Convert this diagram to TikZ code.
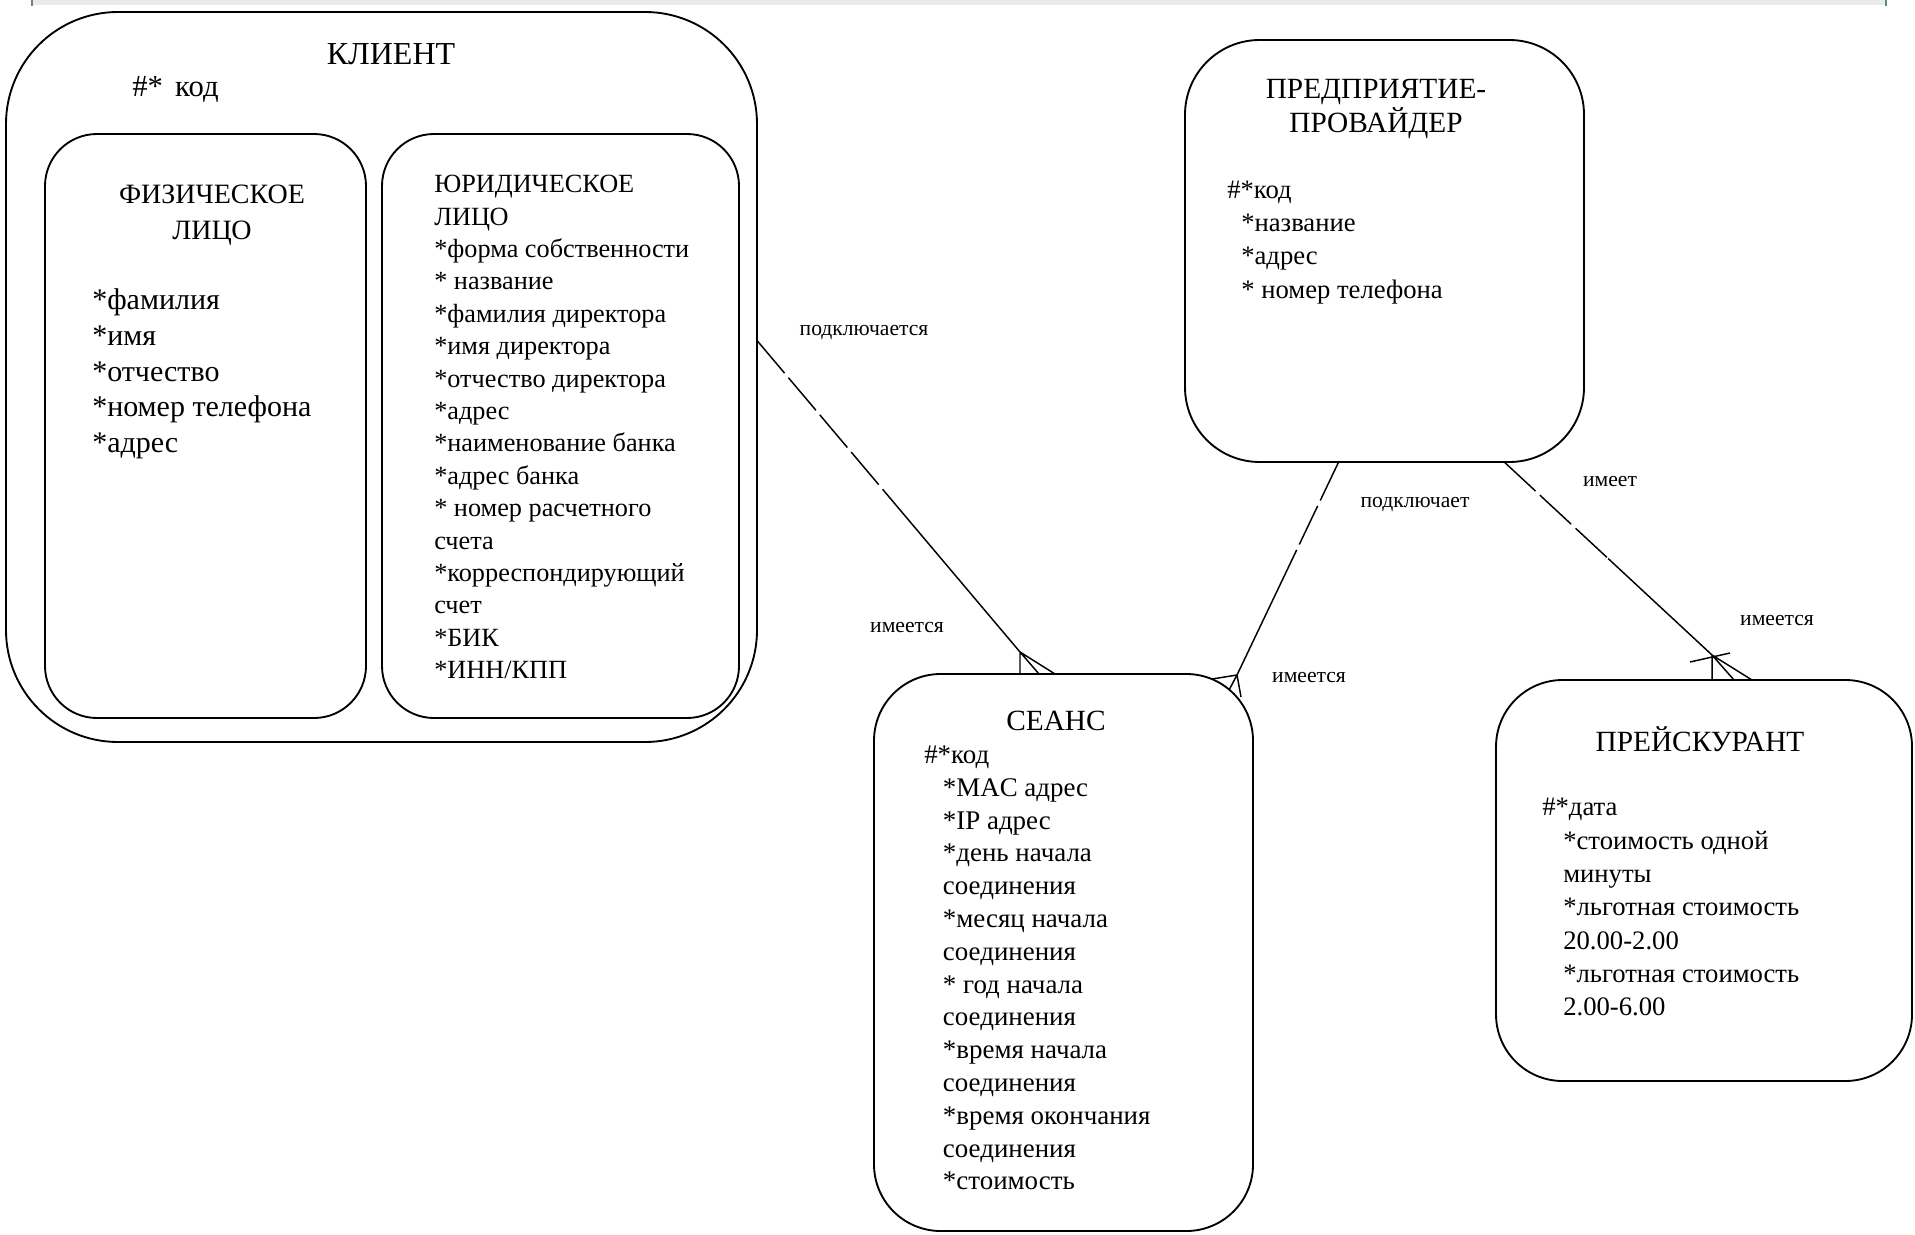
\documentclass[tikz,border=0pt]{standalone}
\usepackage{fontspec}
\setmainfont{Liberation Serif}
\usetikzlibrary{positioning, calc}
\definecolor{stripgray}{RGB}{234,234,234}
\definecolor{striptick}{RGB}{90,138,140}
\tikzset{
  entity/.style={draw, line width=1.4pt, inner sep=0pt, outer sep=0pt, anchor=north west},
  ename/.style={font=\fontsize{22}{25.5}\selectfont, align=center, inner sep=0pt},
  attrs/.style={font=\fontsize{20}{24.6}\selectfont, align=left, anchor=north west, inner sep=0pt},
  rel/.style={line width=1.1pt},
  optrel/.style={rel, dash pattern=on 32pt off 4.5pt},
  lbl/.style={font=\fontsize{16.2}{19}\selectfont, anchor=base, inner sep=0pt}
}

\begin{document}
\begin{tikzpicture}[x=0.75pt, y=-0.75pt]
\useasboundingbox (0,0) rectangle (1915,1234);
% strip at the top
\fill[stripgray] (32,0) rectangle (1886,5);
\fill[striptick] (31,0) rectangle (33,6);
\fill[striptick] (1885,0) rectangle (1887,6);

% entities
\node[entity, minimum width=563.25pt, minimum height=547.5pt, rounded corners=84pt] (klient) at (6,12) {};
\node[entity, minimum width=240.75pt, minimum height=438pt, rounded corners=39pt] (fiz) at (45,134) {};
\node[entity, minimum width=267.75pt, minimum height=438pt, rounded corners=39pt] (yur) at (382,134) {};
\node[entity, minimum width=299.25pt, minimum height=316.5pt, rounded corners=56pt] (prov) at (1185,40) {};
\node[entity, minimum width=284.25pt, minimum height=417.75pt, rounded corners=50pt] (seans) at (874,674) {};
\node[entity, minimum width=312pt, minimum height=300.75pt, rounded corners=50pt] (price) at (1496,680) {};

% klient
\node[ename, font=\fontsize{24}{28}\selectfont, anchor=base] (klientname) at (391,65) {КЛИЕНТ};
\node[attrs, font=\fontsize{23}{26}\selectfont, anchor=base west] (klientkey) at (132,97) {\#*\hspace{0.4em}код};
\node[ename, font=\fontsize{21}{27}\selectfont, anchor=north] (fizname) at (212,185) {ФИЗИЧЕСКОЕ\\ЛИЦО};
\node[attrs, font=\fontsize{22.5}{26.8}\selectfont] (fizattr) at (92,288.5) {*фамилия\\*имя\\*отчество\\*номер телефона\\*адрес};
\node[attrs, font=\fontsize{19.7}{24.3}\selectfont] (yurattr) at (434,175) {ЮРИДИЧЕСКОЕ\\ЛИЦО\\*форма собственности\\* название\\*фамилия директора\\*имя директора\\*отчество директора\\*адрес\\*наименование банка\\*адрес банка\\* номер расчетного\\счета\\*корреспондирующий\\счет\\*БИК\\*ИНН/КПП};

% provider
\node[ename, anchor=north] (provname) at (1376,79) {ПРЕДПРИЯТИЕ-\\ПРОВАЙДЕР};
\node[attrs, font=\fontsize{20}{25}\selectfont] (provattr) at (1227,180.5) {\#*код\\\hspace*{10.5pt}*название\\\hspace*{10.5pt}*адрес\\\hspace*{10.5pt}* номер телефона};

% seans
\node[ename, anchor=base] (seansname) at (1056,730) {СЕАНС};
\node[attrs, font=\fontsize{20.2}{24.6}\selectfont] (seansattr) at (924,745.5) {\#*код\\\hspace*{14pt}*MAC адрес\\\hspace*{14pt}*IP адрес\\\hspace*{14pt}*день начала\\\hspace*{14pt}соединения\\\hspace*{14pt}*месяц начала\\\hspace*{14pt}соединения\\\hspace*{14pt}* год начала\\\hspace*{14pt}соединения\\\hspace*{14pt}*время начала\\\hspace*{14pt}соединения\\\hspace*{14pt}*время окончания\\\hspace*{14pt}соединения\\\hspace*{14pt}*стоимость};

% price
\node[ename, anchor=base] (pricename) at (1700,751) {ПРЕЙСКУРАНТ};
\node[attrs, font=\fontsize{20}{25}\selectfont] (priceattr) at (1542,798) {\#*дата\\\hspace*{15.75pt}*стоимость одной\\\hspace*{15.75pt}минуты\\\hspace*{15.75pt}*льготная стоимость\\\hspace*{15.75pt}20.00-2.00\\\hspace*{15.75pt}*льготная стоимость\\\hspace*{15.75pt}2.00-6.00};

% relationships
\coordinate (from1) at ($(klient.north east)!0.45!(klient.south east)$);
\coordinate (from2) at ($(prov.south west)!0.385!(prov.south east)$);
\coordinate (from3) at ($(prov.south west)!0.8!(prov.south east)$);
\coordinate (foot1) at (1020,652);
\coordinate (foot2) at (1237,675);
\coordinate (foot3) at (1712,655);

\draw[optrel] (from1) -- ($(from1)!0.52!(foot1)$);
\draw[rel] ($(from1)!0.52!(foot1)$) -- (foot1);
\draw[rel] (foot1) -- (foot1 |- seans.north)
  (foot1) -- ($(foot1 |- seans.north)+(19,0)$)
  (foot1) -- ($(foot1 |- seans.north)+(35,0)$);

\draw[optrel] (from2) -- ($(from2)!0.5!(foot2)$);
\draw[rel] ($(from2)!0.5!(foot2)$) -- (foot2);
\draw[rel] (foot2) -- +(-25,4) (foot2) -- +(-8,15) (foot2) -- +(4,22);

\draw[optrel] (from3) -- ($(from3)!0.5!(foot3)$);
\draw[rel] ($(from3)!0.5!(foot3)$) -- (foot3);
\draw[rel] (foot3) -- (foot3 |- price.north)
  (foot3) -- ($(foot3 |- price.north)+(22,0)$)
  (foot3) -- ($(foot3 |- price.north)+(40,0)$);
\draw[rel] ($(foot3)+(-22,7)$) -- ($(foot3)+(18,-2)$);

\node[lbl] (klientrole) at (864,335) {подключается};
\node[lbl] (seansrole1) at (907,632) {имеется};
\node[lbl] (provrole1) at (1415,507) {подключает};
\node[lbl] (seansrole2) at (1309,682) {имеется};
\node[lbl] (provrole2) at (1610,486) {имеет};
\node[lbl] (pricerole) at (1777,625) {имеется};
\end{tikzpicture}
\end{document}
